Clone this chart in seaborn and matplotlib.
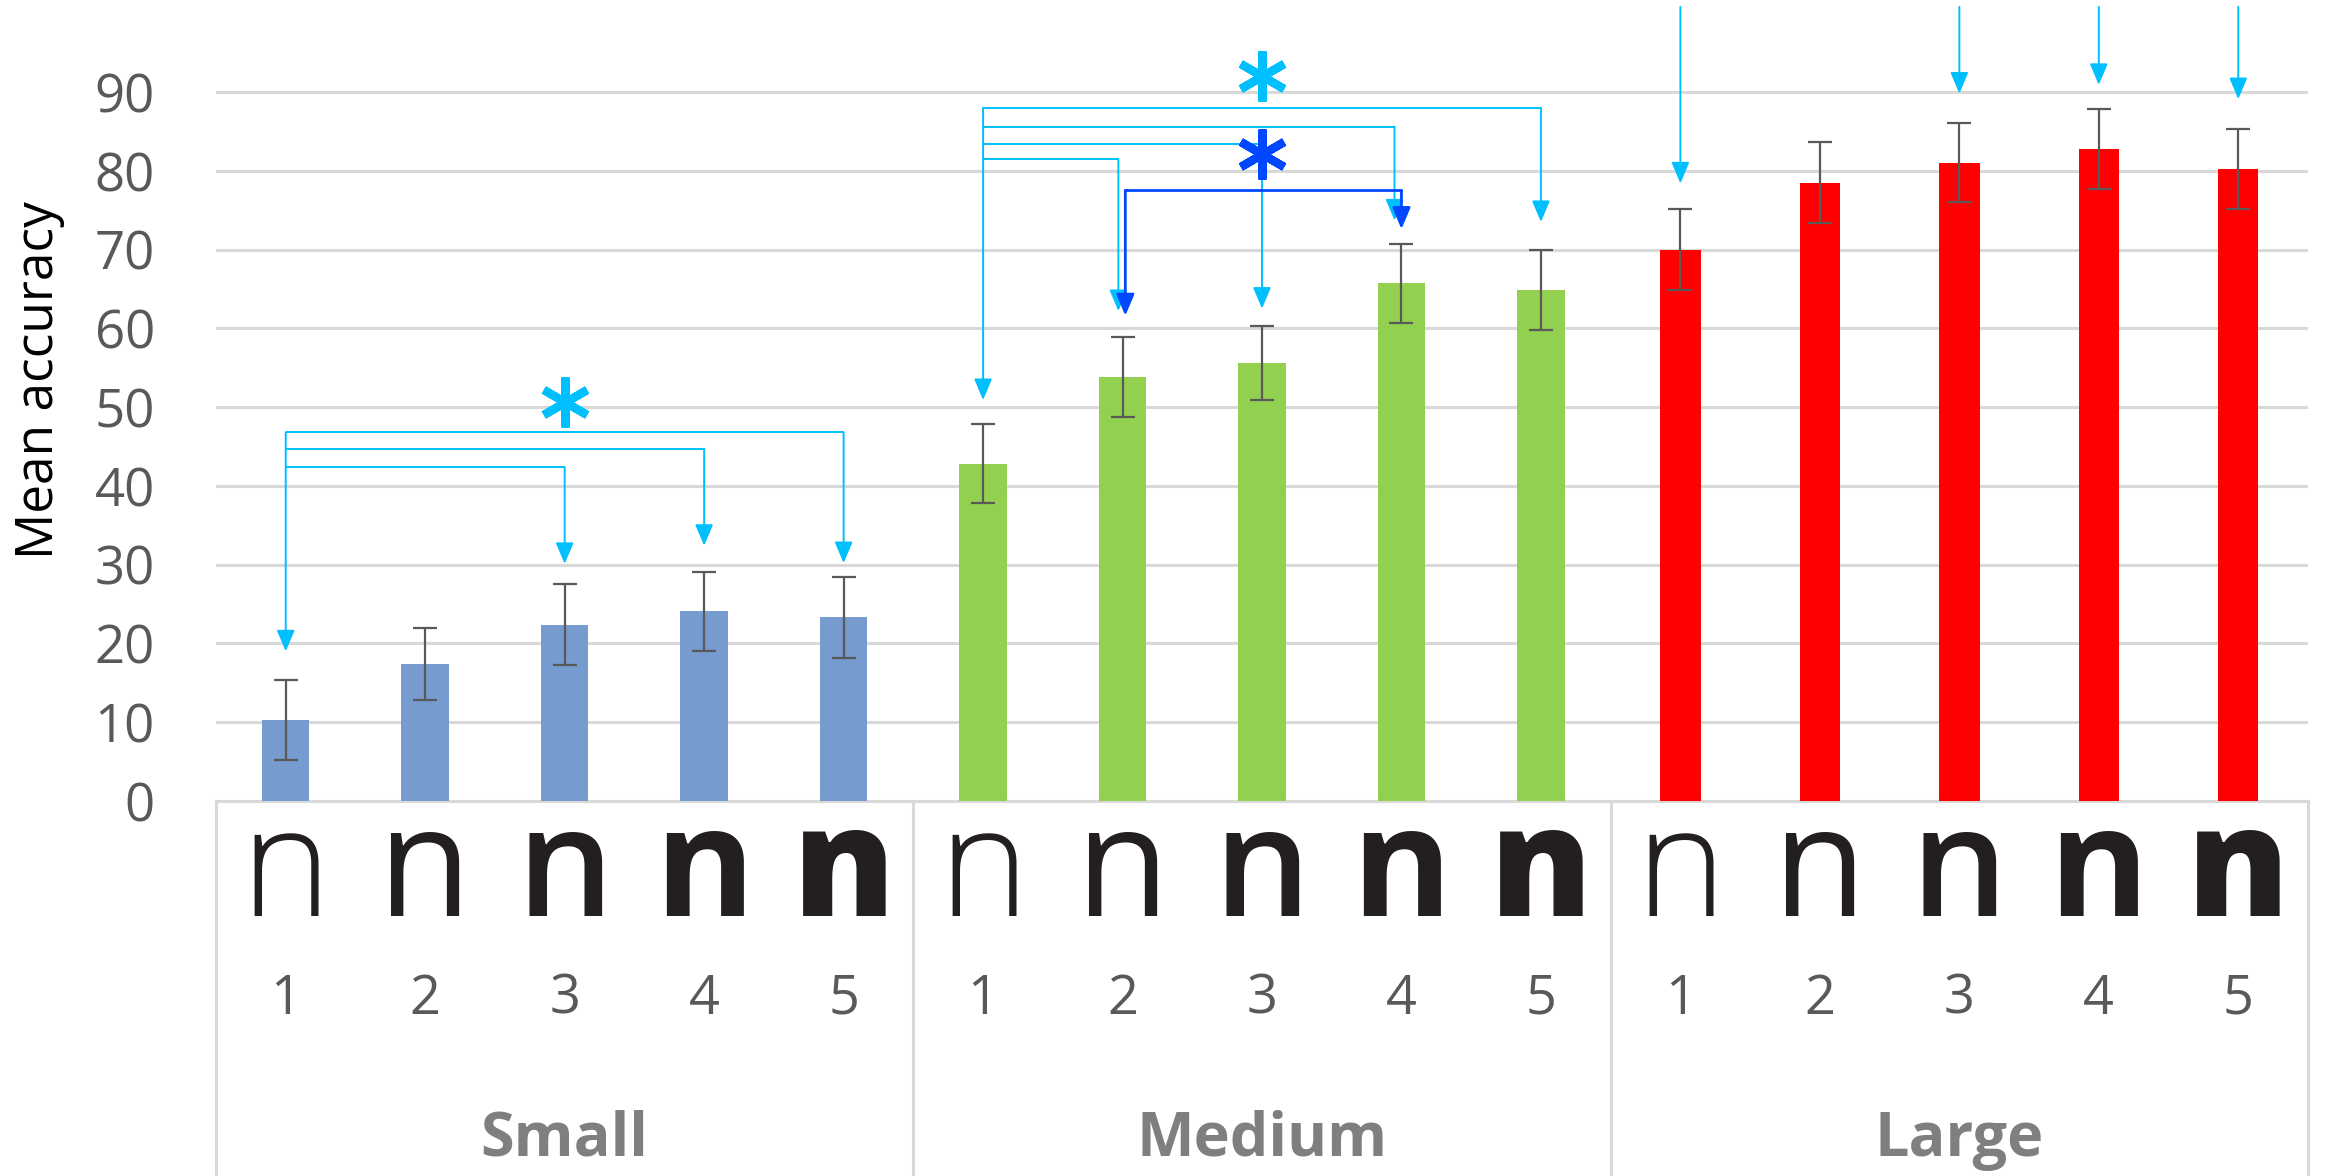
import numpy as np
import pandas as pd
import matplotlib.pyplot as plt
import matplotlib.transforms as mtransforms
from matplotlib.markers import MarkerStyle
import seaborn as sns

# mean accuracy for each stroke weight (1 = thinnest ... 5 = boldest)
groups = ['Small', 'Medium', 'Large']
weights = [1, 2, 3, 4, 5]
small_acc = [10.3, 17.4, 22.4, 24.1, 23.3]
medium_acc = [42.8, 53.8, 55.6, 65.7, 64.9]
large_acc = [70.0, 78.5, 81.0, 82.8, 80.2]
small_err = [5.1, 4.6, 5.1, 5.0, 5.1]
medium_err = [5.0, 5.1, 4.7, 5.0, 5.1]
large_err = [5.1, 5.1, 5.0, 5.1, 5.1]
y_ticks = [0, 10, 20, 30, 40, 50, 60, 70, 80, 90]

palette = {'Small': '#769BCE', 'Medium': '#92D050', 'Large': '#FF0000'}
bar_widths = {'Small': 0.34, 'Medium': 0.34, 'Large': 0.29}
n_weights = {1: 300, 2: 400, 3: 600, 4: 700, 5: 800}

CYAN = '#00BFFF'
DARK = '#0047FF'
GRAY = '#595959'
GRID = '#D9D9D9'

W, H = 2338, 1176


def arrow(ax, x, y_from, y_to, color, lw=1.4):
    """Vertical line ending in a filled arrow head."""
    ax.annotate('', xy=(x, y_to), xytext=(x, y_from), annotation_clip=False,
                arrowprops=dict(arrowstyle='-|>,head_length=1.3,head_width=0.55',
                                color=color, lw=lw, shrinkA=0, shrinkB=0,
                                mutation_scale=10))


def link(ax, x0, x1, y, tip, color, lw=1.4):
    """Horizontal bracket from x0 to x1 at height y, then arrow down to tip."""
    ax.plot([x0, x1], [y, y], color=color, lw=lw, solid_capstyle='butt', zorder=5)
    arrow(ax, x1, y, tip, color, lw)


def star(ax, x, y, color):
    ax.plot([x], [y], marker=MarkerStyle((6, 2, 0), capstyle='round'), ms=36, mew=6,
            color=color, zorder=7)


def main():
    labels = [f'{g}-{w}' for g in groups for w in weights]
    acc = small_acc + medium_acc + large_acc
    err = small_err + medium_err + large_err
    df = pd.DataFrame({'bar': labels, 'group': np.repeat(groups, len(weights)), 'acc': acc})

    sns.set_style('white')
    plt.rcParams['font.family'] = ['Open Sans', 'DejaVu Sans']

    fig = plt.figure(figsize=(W / 100, H / 100), dpi=100)
    ax = fig.add_axes([216 / W, 1 - 801 / H, (2308 - 216) / W, 801 / H])

    for g in groups:
        sns.barplot(data=df[df['group'] == g], x='bar', y='acc', order=labels,
                    color=palette[g], saturation=1, width=bar_widths[g],
                    errorbar=None, linewidth=0, ax=ax, zorder=3)

    xs = np.arange(len(labels))
    ax.errorbar(xs, acc, yerr=err, fmt='none', ecolor=GRAY, elinewidth=1.6,
                capsize=8.5, capthick=1.6, zorder=4)

    ax.set_xlim(-0.5, len(labels) - 0.5)
    ax.set_ylim(0, 801 / 7.878)
    ax.set_yticks(y_ticks)
    ax.tick_params(axis='y', length=0, pad=44, labelsize=38, labelcolor=GRAY)
    ax.tick_params(axis='x', length=0, labelbottom=False)
    ax.set_xlabel('')
    ax.set_ylabel('')
    ax.yaxis.grid(True, color=GRID, lw=2.2)
    ax.set_axisbelow(True)
    for side in ['left', 'right', 'top']:
        ax.spines[side].set_visible(False)
    ax.spines['bottom'].set_color(GRID)
    ax.spines['bottom'].set_linewidth(2.2)

    fig.text(40 / W, 1 - 380 / H, 'Mean accuracy', rotation=90, ha='center',
             va='center', fontsize=37, color='black')

    # category table under the axis
    trans = mtransforms.blended_transform_factory(ax.transData, fig.transFigure)
    for i, label in enumerate(labels):
        w = weights[i % len(weights)]
        ax.text(i, 1 - 916 / H, 'n', transform=trans, ha='center', va='baseline',
                fontsize=110, fontweight=n_weights[w], color='#231F20')
        ax.text(i, 1 - 1014 / H, str(w), transform=trans, ha='center', va='baseline',
                fontsize=39, color=GRAY)
    for k, g in enumerate(groups):
        ax.text(k * 5 + 2, 1 - 1156 / H, g, transform=trans, ha='center', va='baseline',
                fontsize=44, fontweight='bold', color='#7F7F7F')
    for xb in [-0.5, 4.5, 9.5, 14.5]:
        ax.plot([xb, xb], [1 - 801 / H, 0], transform=trans, color=GRID, lw=2.2,
                clip_on=False)

    # significance markers: small group (from bar 0)
    arrow(ax, 0, 46.8, 19.0, CYAN)
    link(ax, 0, 2, 42.4, 30.1, CYAN)
    link(ax, 0, 3, 44.7, 32.4, CYAN)
    link(ax, 0, 4, 46.8, 30.2, CYAN)
    star(ax, 2, 50.6, CYAN)

    # medium group (from bar 5)
    arrow(ax, 5, 88.0, 50.9, CYAN)
    link(ax, 5, 9, 88.0, 73.5, CYAN)
    link(ax, 5, 7.95, 85.6, 73.7, CYAN)
    link(ax, 5, 7, 83.4, 62.5, CYAN)
    link(ax, 5, 5.97, 81.5, 62.2, CYAN)
    star(ax, 7, 92.0, CYAN)

    # medium weight 2 vs 4
    ax.plot([6.02, 8], [77.5, 77.5], color=DARK, lw=2, zorder=6)
    arrow(ax, 6.02, 77.5, 61.6, DARK, lw=2)
    arrow(ax, 8, 77.5, 72.6, DARK, lw=2)
    star(ax, 7, 82.1, DARK)

    # large group: arrows coming from above the chart
    for x, tip in [(10, 78.4), (12, 89.8), (13, 90.9), (14, 89.1)]:
        arrow(ax, x, 100.8, tip, CYAN)

    fig.savefig('out.png', dpi=100)


if __name__ == '__main__':
    main()
